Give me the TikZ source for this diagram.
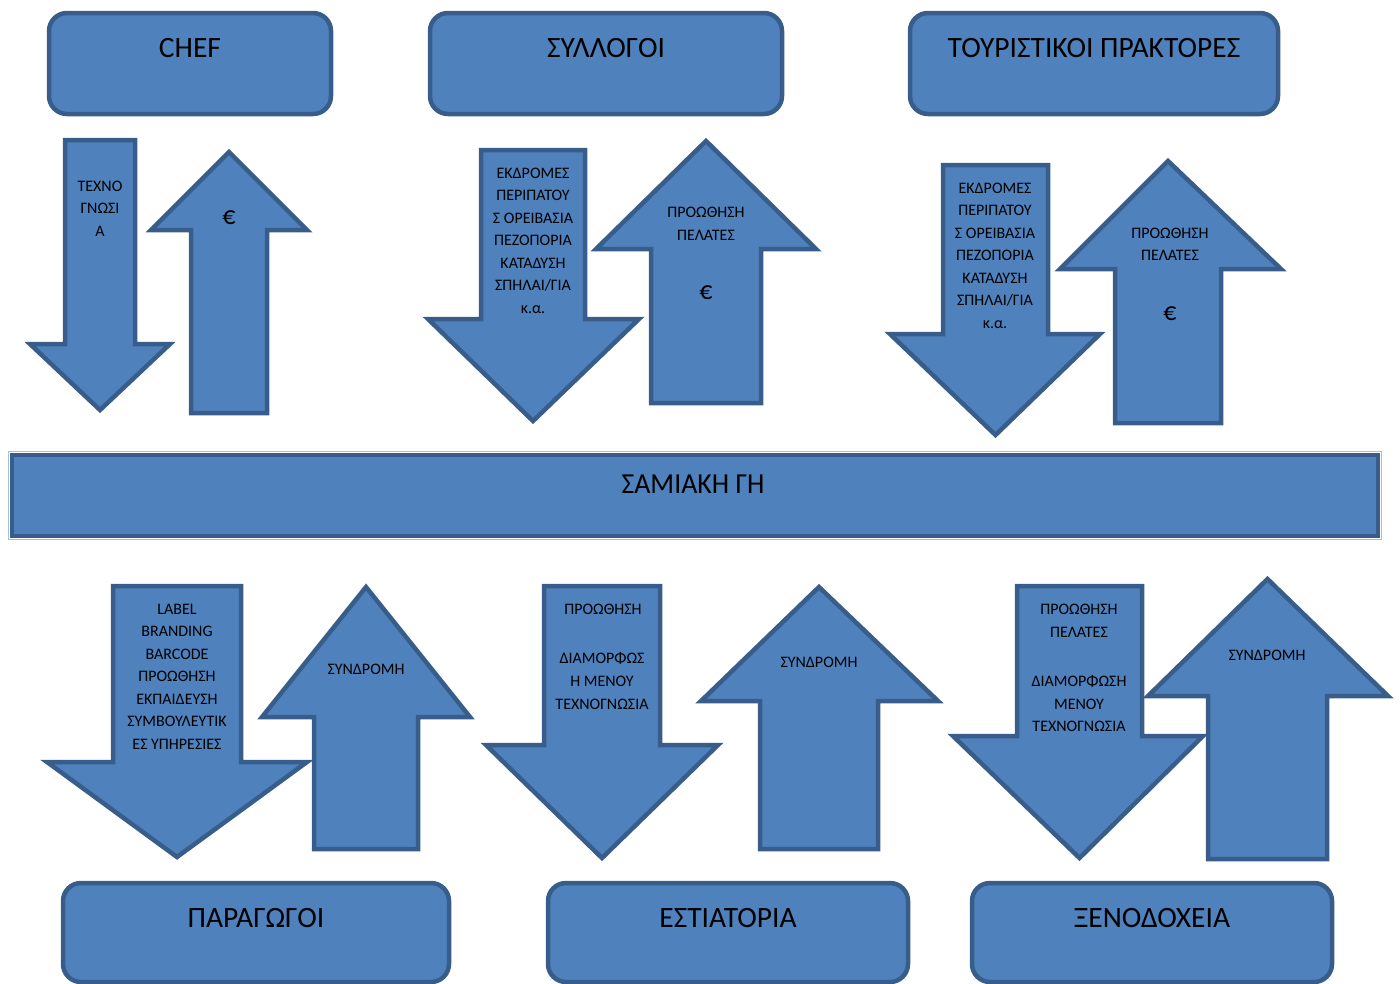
\documentclass[tikz,border=0pt]{standalone}
\usepackage{fontspec}
\setmainfont{Carlito}
\usepackage{graphicx}
\definecolor{fillb}{HTML}{4F81BD}
\definecolor{lineb}{HTML}{385D8A}
\definecolor{edgeb}{HTML}{A9BEDA}
\tikzset{
  shp/.style={fill=fillb, draw=lineb, line width=4.5pt, line join=miter, miter limit=10},
  box/.style={fill=fillb, draw=lineb, line width=4.5pt, rounded corners=18pt, rectangle, inner sep=0pt},
  small/.style={font=\fontsize{16}{19}\selectfont, inner sep=0pt, anchor=base, text=black},
  title/.style={font=\fontsize{29.5}{34}\selectfont, inner sep=0pt, anchor=base, text=black},
  euro/.style={font=\fontsize{26}{30}\selectfont, inner sep=0pt, anchor=base, text=black},
}
% #1 shaft left, #2 shaft right, #3 shaft end, #4 head base, #5 head left, #6 head right, #7 tip
\newcommand\blockarrow[7]{%
  \draw[shp] (#1,#3) -- (#2,#3) -- (#2,#4) -- (#6,#4) -- ({(#1+#2)/2},#7) -- (#5,#4) -- (#1,#4) -- cycle;}
\begin{document}
\begin{tikzpicture}[x=1pt,y=-1pt]
\useasboundingbox (0,0) rectangle (1400,983);

% top boxes
\node[box, minimum width=282pt, minimum height=101pt] (chef) at (190,63.5) {};
\node[box, minimum width=352pt, minimum height=101pt] (syl) at (606,63.5) {};
\node[box, minimum width=368pt, minimum height=101pt] (tour) at (1094,63.5) {};
\node[title] (chefT) at (190,57.5) {CHEF};
\node[title] (sylT) at (606,57.5) {ΣΥΛΛΟΓΟΙ};
\node[title] (tourT) at (1094,57.5) {ΤΟΥΡΙΣΤΙΚΟΙ ΠΡΑΚΤΟΡΕΣ};

% bottom boxes
\node[box, minimum width=386pt, minimum height=99pt] (par) at (256,932.5) {};
\node[box, minimum width=360pt, minimum height=99pt] (est) at (728,932.5) {};
\node[box, minimum width=360pt, minimum height=99pt] (xen) at (1152,932.5) {};
\node[title] (parT) at (256,927.5) {ΠΑΡΑΓΩΓΟΙ};
\node[title] (estT) at (728,927.5) {ΕΣΤΙΑΤΟΡΙΑ};
\node[title] (xenT) at (1152,927.5) {ΞΕΝΟΔΟΧΕΙΑ};

% central bar
\node[rectangle, draw=edgeb, line width=1pt, minimum width=1373pt, minimum height=88pt, inner sep=0pt] (samosE) at (694.5,495) {};
\node[rectangle, fill=fillb, draw=lineb, line width=4pt, minimum width=1366pt, minimum height=81pt, inner sep=0pt] (samos) at (694.5,495) {};
\node[inner sep=0pt, anchor=base, font=\fontsize{29}{34}\selectfont] (samosT) at (693,493) {\scalebox{0.96}[1]{ΣΑΜΙΑΚΗ ΓΗ}};

% top arrows
\blockarrow{65}{135}{140}{344}{30}{170}{410}
\blockarrow{191}{267}{413}{230}{151}{307}{152}
\blockarrow{481}{585}{150}{319}{428}{639}{421}
\blockarrow{651}{761}{403}{249}{596}{816}{141}
\blockarrow{943}{1048}{165}{334}{890}{1100}{435}
\blockarrow{1115}{1221}{423}{269}{1060}{1281}{161}

% bottom arrows
\blockarrow{113}{241}{586}{762}{47}{307}{857}
\blockarrow{314}{418}{849}{717}{262}{470}{587}
\blockarrow{544}{660}{586}{745}{486}{718}{858}
\blockarrow{760}{878}{849}{701}{701}{938}{587}
\blockarrow{1017}{1142}{586}{736}{953}{1203}{858}
\blockarrow{1208}{1327}{859}{696}{1148}{1388}{579}

% texts top arrows
\foreach \t [count=\i] in {ΤΕΧΝΟ,ΓΝΩΣΙ,Α}
  \node[small] (a1t\i) at (100,{191+(\i-1)*22.5}) {\t};
\node[euro] (a1e) at (229,224) {€};
\foreach \t [count=\i] in {ΕΚΔΡΟΜΕΣ,ΠΕΡΙΠΑΤΟΥ,Σ ΟΡΕΙΒΑΣΙΑ,ΠΕΖΟΠΟΡΙΑ,ΚΑΤΑΔΥΣΗ,ΣΠΗΛΑΙ/ΓΙΑ,κ.α.}
  \node[small] (a2t\i) at (533,{178+(\i-1)*22.5}) {\t};
\node[small] (a3t1) at (706,217) {ΠΡΟΩΘΗΣΗ};
\node[small] (a3t2) at (706,240) {ΠΕΛΑΤΕΣ};
\node[euro] (a3e) at (706,299) {€};
\foreach \t [count=\i] in {ΕΚΔΡΟΜΕΣ,ΠΕΡΙΠΑΤΟΥ,Σ ΟΡΕΙΒΑΣΙΑ,ΠΕΖΟΠΟΡΙΑ,ΚΑΤΑΔΥΣΗ,ΣΠΗΛΑΙ/ΓΙΑ,κ.α.}
  \node[small] (a4t\i) at (995,{193+(\i-1)*22.5}) {\t};
\node[small] (a5t1) at (1170,238) {ΠΡΟΩΘΗΣΗ};
\node[small] (a5t2) at (1170,260) {ΠΕΛΑΤΕΣ};
\node[euro] (a5e) at (1170,320) {€};

% texts bottom arrows
\foreach \t [count=\i] in {LABEL,BRANDING,BARCODE,ΠΡΟΩΘΗΣΗ,ΕΚΠΑΙΔΕΥΣΗ,ΣΥΜΒΟΥΛΕΥΤΙΚ,ΕΣ ΥΠΗΡΕΣΙΕΣ}
  \node[small] (b1t\i) at (177,{614+(\i-1)*22.5}) {\t};
\node[small] (b2t) at (366,674) {ΣΥΝΔΡΟΜΗ};
\node[small] (b3t1) at (603,614) {ΠΡΟΩΘΗΣΗ};
\node[small] (b3t2) at (602,663) {ΔΙΑΜΟΡΦΩΣ};
\node[small] (b3t3) at (602,686) {Η ΜΕΝΟΥ};
\node[small] (b3t4) at (602,709) {ΤΕΧΝΟΓΝΩΣΙΑ};
\node[small] (b4t) at (819,667) {ΣΥΝΔΡΟΜΗ};
\node[small] (b5t1) at (1079,614) {ΠΡΟΩΘΗΣΗ};
\node[small] (b5t2) at (1079,637) {ΠΕΛΑΤΕΣ};
\node[small] (b5t3) at (1079,686) {ΔΙΑΜΟΡΦΩΣΗ};
\node[small] (b5t4) at (1079,709) {ΜΕΝΟΥ};
\node[small] (b5t5) at (1079,731) {ΤΕΧΝΟΓΝΩΣΙΑ};
\node[small] (b6t) at (1267,660) {ΣΥΝΔΡΟΜΗ};
\end{tikzpicture}
\end{document}
